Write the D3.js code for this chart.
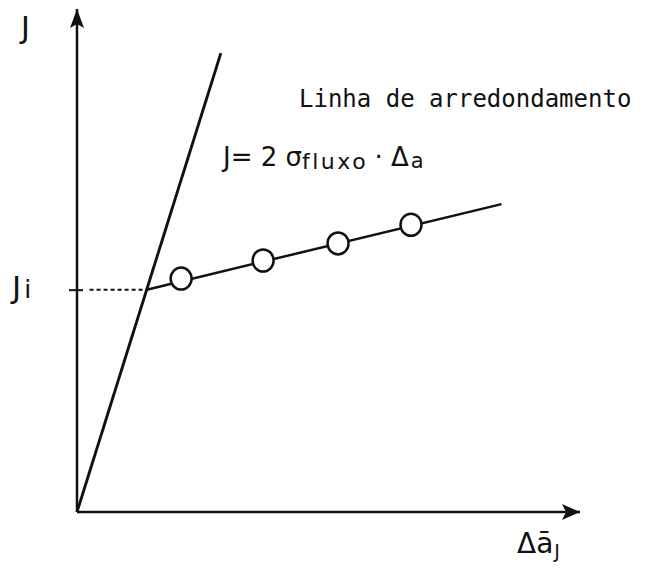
<!DOCTYPE html>
<html>
<head>
<meta charset="utf-8">
<script src="https://cdn.jsdelivr.net/npm/d3@7/dist/d3.min.js"></script>
<style>
  html, body { margin: 0; padding: 0; background: #fff; }
  svg { display: block; }
  .hand { font-family: "DejaVu Sans", sans-serif; fill: #111; }
  .mono { font-family: "DejaVu Sans Mono", monospace; fill: #111; }
</style>
</head>
<body>
<svg id="chart" width="645" height="569"></svg>
<script>
// J-R curve construction: blunting line, Ji level and the fitted points
const axisMax = [10, 10];                 // [Δa, J] extent of the axes
const bluntingSlope = 3.19;               // J = 2·σ_fluxo·Δa
const bluntingEnd = [2.86];               // Δa where the blunting line stops
const Ji = [4.42];                        // initiation level
const pointsDa = [2.07, 3.70, 5.19, 6.64];
const pointsJ  = [4.64, 5.00, 5.34, 5.71];
const fitEndDa = [8.44];                  // right end of the fitted line
const fitSlope = [0.241];
const labels = {
  yAxis: "J",
  xAxis: "Δā",
  xAxisSub: "J",
  ji: "J",
  jiSub: "i",
  title: "Linha de arredondamento",
  formula: ["J= 2 σ", "fluxo", " · Δ", "a"]
};

const svg = d3.select("#chart");
const x = d3.scaleLinear().domain([0, axisMax[0]]).range([77, 580]);
const y = d3.scaleLinear().domain([0, axisMax[1]]).range([512, 9]);
const line = d3.line().x(d => x(d[0])).y(d => y(d[1]));

const ink = "#111";

// axes
svg.append("path")
  .attr("d", line([[0, 0], [axisMax[0], 0]]))
  .attr("stroke", ink).attr("stroke-width", 2.5).attr("fill", "none");
svg.append("path")
  .attr("d", line([[0, 0], [0, axisMax[1]]]))
  .attr("stroke", ink).attr("stroke-width", 2.5).attr("fill", "none");

// arrowheads
const xt = [x(axisMax[0]), y(0)];
svg.append("path")
  .attr("d", `M${xt[0]},${xt[1]} L${xt[0] - 18},${xt[1] - 8} L${xt[0] - 14},${xt[1]} L${xt[0] - 18},${xt[1] + 8} Z`)
  .attr("fill", ink);
const yt = [x(0), y(axisMax[1])];
svg.append("path")
  .attr("d", `M${yt[0]},${yt[1]} L${yt[0] - 7},${yt[1] + 19} L${yt[0]},${yt[1] + 15} L${yt[0] + 7},${yt[1] + 19} Z`)
  .attr("fill", ink);

// Ji tick across the J axis
const yAxis = d3.axisLeft(y).tickValues(Ji).tickSizeInner(7).tickSizeOuter(0).tickFormat(() => "");
const gy = svg.append("g").attr("transform", `translate(${x(0) + 6},0)`).call(yAxis);
gy.select(".domain").remove();
gy.selectAll(".tick line").attr("stroke", ink).attr("stroke-width", 2).attr("x2", -14);

// blunting line from the origin
const bluntTop = bluntingEnd[0];
svg.append("path")
  .attr("d", line([[0, 0], [bluntTop, bluntTop * bluntingSlope]]))
  .attr("stroke", ink).attr("stroke-width", 2.9).attr("fill", "none");

// dotted Ji level up to the blunting line
const daInt = Ji[0] / bluntingSlope;
svg.append("path")
  .attr("d", line([[0.25, Ji[0]], [daInt, Ji[0]]]))
  .attr("stroke", ink).attr("stroke-width", 2).attr("stroke-dasharray", "4,3").attr("fill", "none");

// fitted line from the intersection
svg.append("path")
  .attr("d", line([[daInt, Ji[0]], [fitEndDa[0], Ji[0] + fitSlope[0] * (fitEndDa[0] - daInt)]]))
  .attr("stroke", ink).attr("stroke-width", 2.5).attr("fill", "none");

// data points
svg.selectAll("ellipse.pt")
  .data(pointsDa.map((d, i) => [d, pointsJ[i]]))
  .join("ellipse")
  .attr("class", "pt")
  .attr("cx", d => x(d[0])).attr("cy", d => y(d[1]))
  .attr("rx", 10.5).attr("ry", 11)
  .attr("fill", "#fff").attr("stroke", ink).attr("stroke-width", 2.5);

// axis labels
svg.append("text").attr("class", "hand")
  .attr("x", 21).attr("y", 38).attr("font-size", 30).text(labels.yAxis);

const jiText = svg.append("text").attr("class", "hand")
  .attr("x", 12).attr("y", 298).attr("font-size", 31);
jiText.append("tspan").text(labels.ji);
jiText.append("tspan").attr("font-size", 25).attr("dx", 3).text(labels.jiSub);

const xl = svg.append("text").attr("class", "hand")
  .attr("x", 517).attr("y", 553).attr("font-size", 28);
xl.append("tspan").text(labels.xAxis);
xl.append("tspan").attr("font-size", 19).attr("dy", 5).attr("dx", 1).text(labels.xAxisSub);

// caption and formula of the blunting line
svg.append("text").attr("class", "mono")
  .attr("x", 299).attr("y", 107).attr("font-size", 24).text(labels.title);

const f = svg.append("text").attr("class", "hand")
  .attr("x", 223).attr("y", 166).attr("font-size", 26);
f.append("tspan").text(labels.formula[0]);
f.append("tspan").attr("font-size", 22).attr("letter-spacing", 2.5).attr("dy", 3).text(labels.formula[1]);
f.append("tspan").attr("dy", -3).attr("dx", -2).text(labels.formula[2]);
f.append("tspan").attr("font-size", 21).attr("dy", 2).attr("dx", 2).text(labels.formula[3]);
</script>
</body>
</html>
